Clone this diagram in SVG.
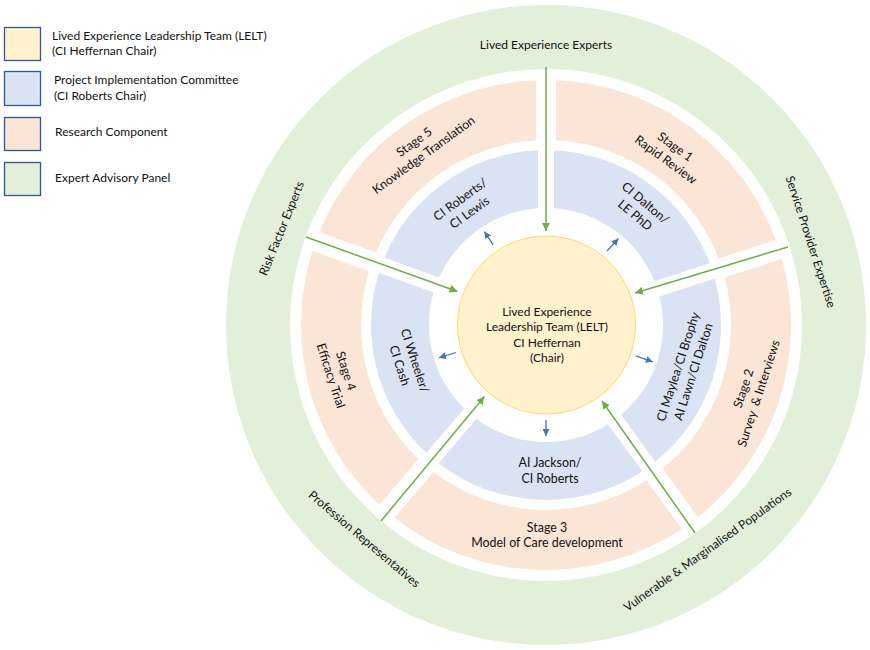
<svg xmlns="http://www.w3.org/2000/svg" width="870" height="650" viewBox="0 0 870 650">
<defs>
<style>
text { font-family: Lato, "Liberation Sans", sans-serif; fill: #111; }
.lg { font-size: 12px; }
.c { font-size: 12px; text-anchor: middle; }
.sg { font-size: 12.4px; text-anchor: middle; }
.box { stroke: #2F5597; stroke-width: 1.3; }
.yel { fill: #FFF2CC; }
.blu { fill: #DAE3F3; }
.pnk { fill: #FBE5D6; }
.grn { fill: #E2F0D9; }
.gline { stroke: #70AD47; stroke-width: 1.5; fill: none; marker-end: url(#ga); }
.bline { stroke: #4472C4; stroke-width: 1.3; fill: none; marker-end: url(#ba); }
</style>
<marker id="ga" markerUnits="userSpaceOnUse" viewBox="0 0 8 8" markerWidth="8" markerHeight="8" refX="8" refY="4" orient="auto">
<path d="M0,0 L8,4 L0,8 Z" fill="#70AD47"/>
</marker>
<marker id="ba" markerUnits="userSpaceOnUse" viewBox="0 0 7 7" markerWidth="7" markerHeight="7" refX="7" refY="3.5" orient="auto">
<path d="M0,0 L7,3.5 L0,7 Z" fill="#4472C4"/>
</marker>
</defs>

<g id="legend">
<g id="legend-lelt">
<rect class="box yel" x="4.5" y="27.5" width="36" height="33"/>
<text class="lg" x="52" y="39.5">Lived Experience Leadership Team (LELT)</text>
<text class="lg" x="52" y="55">(CI Heffernan Chair)</text>
</g>
<g id="legend-pic">
<rect class="box blu" x="4.5" y="71.5" width="36" height="34"/>
<text class="lg" x="54" y="84">Project Implementation Committee</text>
<text class="lg" x="54" y="99.5">(CI Roberts Chair)</text>
</g>
<g id="legend-research">
<rect class="box pnk" x="4.5" y="117.5" width="36" height="33"/>
<text class="lg" x="55" y="136">Research Component</text>
</g>
<g id="legend-eap">
<rect class="box grn" x="4.5" y="162.5" width="36" height="33"/>
<text class="lg" x="55" y="182">Expert Advisory Panel</text>
</g>
</g>

<g id="expert-advisory-panel">
<circle cx="546" cy="325" r="288" fill="none" stroke="#E2F0D9" stroke-width="64"/>
<text class="c" x="546" y="49">Lived Experience Experts</text>
<text class="c" transform="translate(281.5,228.5) rotate(-68)" x="0" y="4.2">Risk Factor Experts</text>
<text class="c" transform="translate(810.8,241.7) rotate(72)" x="0" y="4.2">Service Provider Expertise</text>
<text class="c" transform="translate(364.3,539) rotate(40.4)" x="0" y="4.2">Profession Representatives</text>
<text class="c" transform="translate(707.5,549.5) rotate(-35.6)" x="0" y="4.2">Vulnerable &amp; Marginalised Populations</text>
</g>

<g id="stage-1">
<path class="pnk" d="M556.0,80.2 A245,245 0 0 1 775.73,239.85 L718.60,258.40 A185,185 0 0 0 556.0,140.27 Z"/>
<g transform="translate(670.7,153) rotate(36)">
<text class="sg" x="0" y="-3.5">Stage 1</text>
<text class="sg" x="0" y="12.5">Rapid Review</text>
</g>
</g>
<g id="stage-2">
<path class="pnk" d="M781.91,258.87 A245,245 0 0 1 697.98,517.17 L662.67,468.57 A185,185 0 0 0 724.78,277.43 Z"/>
<g transform="translate(750.8,390.8) rotate(-72)">
<text class="sg" x="0" y="-3.5">Stage 2</text>
<text class="sg" x="0" y="12.5" xml:space="preserve">Survey  &amp; Interviews</text>
</g>
</g>
<g id="stage-3">
<path class="pnk" d="M681.80,528.92 A245,245 0 0 1 394.62,517.64 L433.63,471.96 A185,185 0 0 0 646.49,480.33 Z"/>
<text class="sg" x="547" y="531.5">Stage 3</text>
<text class="sg" x="547" y="547.3">Model of Care development</text>
</g>
<g id="stage-4">
<path class="pnk" d="M379.41,504.65 A245,245 0 0 1 312.54,250.67 L368.99,271.22 A185,185 0 0 0 418.42,458.97 Z"/>
<g transform="translate(338.7,373.2) rotate(72)">
<text class="sg" x="0" y="-3.5">Stage 4</text>
<text class="sg" x="0" y="12.5">Efficacy Trial</text>
</g>
</g>
<g id="stage-5">
<path class="pnk" d="M319.39,231.88 A245,245 0 0 1 536.0,80.2 L536.0,140.27 A185,185 0 0 0 375.83,252.42 Z"/>
<g transform="translate(418.7,148.2) rotate(-36)">
<text class="sg" x="0" y="-3.5">Stage 5</text>
<text class="sg" x="0" y="12.5">Knowledge Translation</text>
</g>
</g>

<g id="pic-dalton">
<path class="blu" d="M554.0,150.18 A175,175 0 0 1 709.79,263.37 L654.54,281.32 A117,117 0 0 0 554.0,208.27 Z"/>
<g transform="translate(640.4,208.8) rotate(40)">
<text class="sg" x="0" y="-3.5">CI Dalton/</text>
<text class="sg" x="0" y="12.5">LE PhD</text>
</g>
</g>
<g id="pic-maylea">
<path class="blu" d="M714.74,278.58 A175,175 0 0 1 655.23,461.73 L621.08,414.73 A117,117 0 0 0 659.49,296.54 Z"/>
<g transform="translate(685.4,369.2) rotate(-72)">
<text class="sg" x="0" y="-3.5">CI Maylea/CI Brophy</text>
<text class="sg" x="0" y="12.5">AI Lawn/CI Dalton</text>
</g>
</g>
<g id="pic-jackson">
<path class="blu" d="M642.29,471.14 A175,175 0 0 1 438.55,463.13 L476.28,418.96 A117,117 0 0 0 608.14,424.14 Z"/>
<text class="sg" x="550" y="466.7">AI Jackson/</text>
<text class="sg" x="550" y="482.7">CI Roberts</text>
</g>
<g id="pic-wheeler">
<path class="blu" d="M426.38,452.74 A175,175 0 0 1 378.99,272.73 L433.58,292.59 A117,117 0 0 0 464.11,408.56 Z"/>
<g transform="translate(407.5,362.9) rotate(72)">
<text class="sg" x="0" y="-3.5">CI Wheeler/</text>
<text class="sg" x="0" y="12.5">CI Cash</text>
</g>
</g>
<g id="pic-roberts">
<path class="blu" d="M384.46,257.69 A175,175 0 0 1 538.0,150.18 L538.0,208.27 A117,117 0 0 0 439.05,277.56 Z"/>
<g transform="translate(464.6,205.8) rotate(-36)">
<text class="sg" x="0" y="-3.5">CI Roberts/</text>
<text class="sg" x="0" y="12.5">CI Lewis</text>
</g>
</g>

<g id="lelt-centre">
<circle cx="546.5" cy="325" r="89" fill="#FFF2CC" stroke="#FFD966" stroke-width="1"/>
<text class="c" x="547" y="315.5">Lived Experience</text>
<text class="c" x="547" y="331">Leadership Team (LELT)</text>
<text class="c" x="547" y="346.7">CI Heffernan</text>
<text class="c" x="547" y="362.3">(Chair)</text>
</g>

<g id="connectors">
<line class="gline" x1="546" y1="67" x2="546" y2="231"/>
<line class="gline" x1="306" y1="237" x2="457.5" y2="291.5"/>
<line class="gline" x1="788" y1="247" x2="635" y2="293"/>
<line class="gline" x1="381" y1="521" x2="484.5" y2="396.5"/>
<line class="gline" x1="695" y1="533" x2="602" y2="401"/>
<line class="bline" x1="607" y1="251" x2="618.5" y2="238.5"/>
<line class="bline" x1="493.2" y1="244.9" x2="484.3" y2="231.5"/>
<line class="bline" x1="635.8" y1="355.9" x2="652.8" y2="361.8"/>
<line class="bline" x1="546" y1="420" x2="546" y2="436"/>
<line class="bline" x1="456.1" y1="352.5" x2="438.9" y2="357.7"/>
</g>
</svg>
